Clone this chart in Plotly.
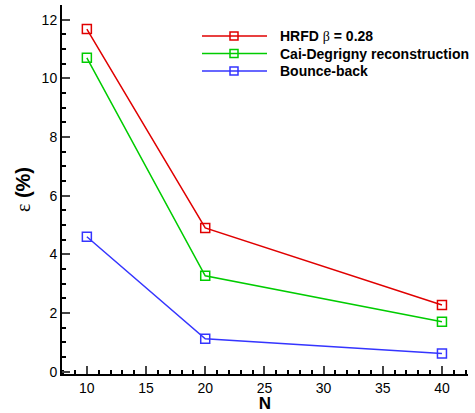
import plotly.graph_objects as go

N = [10, 20, 40]
hrfd = [11.68, 4.9, 2.27]
cai = [10.7, 3.27, 1.7]
bounce = [4.6, 1.12, 0.62]
names = ["HRFD <span style='font-family:Liberation Serif;font-weight:normal'>\u03b2</span> = 0.28",
         "Cai-Degrigny reconstruction", "Bounce-back"]
colors = ["#e00000", "#00cc00", "#3535ff"]

# plot area in pixels
L, R, T, B = 62, 468, 5, 374
W, H = 475, 413

def px(x):
    return (x - L) / (R - L)

def py(y):
    return (B - y) / (B - T)

fig = go.Figure()
for y, nm, c in zip([hrfd, cai, bounce], names, colors):
    fig.add_trace(go.Scatter(
        x=N, y=y, name=nm, mode="lines+markers",
        line=dict(color=c, width=1.5),
        marker=dict(symbol="square-open", size=9, color=c, line=dict(width=1.5, color=c)),
        showlegend=False,
    ))

fnt = "Liberation Sans, Arial, sans-serif"

# custom legend (Tecplot style)
rows = [36, 53.5, 71]
shapes = []
annotations = []
for r, nm, c in zip(rows, names, colors):
    shapes.append(dict(type="line", xref="paper", yref="paper",
                       x0=px(202), x1=px(267), y0=py(r), y1=py(r),
                       line=dict(color=c, width=1.5)))
    shapes.append(dict(type="rect", xref="paper", yref="paper",
                       xsizemode="pixel", ysizemode="pixel",
                       xanchor=px(234), yanchor=py(r),
                       x0=-4, x1=4, y0=-4, y1=4,
                       line=dict(color=c, width=1.5), fillcolor="rgba(0,0,0,0)"))
    annotations.append(dict(xref="paper", yref="paper", x=px(278), y=py(r),
                            xanchor="left", yanchor="middle", showarrow=False,
                            text="<b>%s</b>" % nm,
                            font=dict(size=14, family=fnt, color="black")))

fig.update_layout(
    width=W, height=H,
    margin=dict(l=L, r=W - R, t=T, b=H - B),
    plot_bgcolor="white", paper_bgcolor="white",
    font=dict(family=fnt, size=14, color="black"),
    showlegend=False,
    shapes=shapes, annotations=annotations,
    xaxis=dict(range=[7.9, 42.2], showgrid=False, zeroline=False,
               showline=True, linewidth=2, linecolor="black",
               ticks="inside", ticklen=8, tickwidth=2, dtick=5, tick0=0,
               minor=dict(ticks="inside", ticklen=4, tickwidth=1.5, dtick=1, tick0=0, tickcolor="black"),
               title=dict(text="<b>N</b>", font=dict(size=17), standoff=0),
               tickfont=dict(size=14)),
    yaxis=dict(range=[-0.08, 12.5], showgrid=False, zeroline=False,
               showline=True, linewidth=2, linecolor="black",
               ticks="inside", ticklen=8, tickwidth=2, dtick=2, tick0=0,
               minor=dict(ticks="inside", ticklen=4, tickwidth=1.5, dtick=0.5, tick0=0, tickcolor="black"),
               title=dict(text="<span style='font-family:Liberation Serif'>\u03b5</span><b> (%)</b>",
                          font=dict(size=20), standoff=6),
               tickfont=dict(size=14)),
)
fig.write_html("out.html")
